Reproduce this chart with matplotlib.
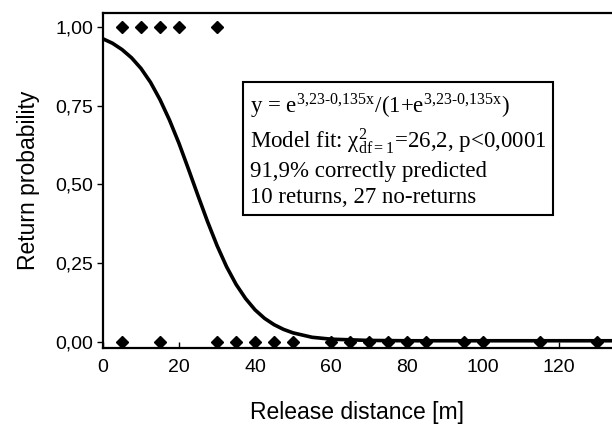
import numpy as np
import matplotlib
matplotlib.use("Agg")
import matplotlib.pyplot as plt

# --- data ---
# observed returns (y = 1) and no-returns (y = 0), release distance in m
return_x = [5, 10, 15, 20, 30]
noreturn_x = [5, 15, 30, 35, 40, 45, 50, 60, 65, 70, 75, 80, 85, 95, 100, 115, 130]

# fitted logistic curve
curve_x = [0, 2.5, 5, 7.5, 10, 12.5, 15, 17.5, 20, 22.5, 25, 27.5, 30, 32.5, 35,
           37.5, 40, 42.5, 45, 47.5, 50, 55, 60, 70, 80, 100, 120, 135]
curve_y = [0.962, 0.948, 0.928, 0.902, 0.868, 0.824, 0.769, 0.704, 0.630, 0.548,
           0.464, 0.382, 0.306, 0.239, 0.183, 0.138, 0.102, 0.075, 0.055, 0.040,
           0.029, 0.015, 0.009, 0.005, 0.004, 0.004, 0.004, 0.004]

y_ticks = [0.0, 0.25, 0.5, 0.75, 1.0]
y_ticklabels = ["0,00", "0,25", "0,50", "0,75", "1,00"]
x_ticks = [0, 20, 40, 60, 80, 100, 120]

box_lines = [
    r"y = e$^{\mathregular{3{,}23\text{-}0{,}135x}}$/(1+e$^{\mathregular{3{,}23\text{-}0{,}135x}}$)",
    r"Model fit: χ$^{\mathregular{2}}_{\mathregular{df=1}}$=26,2, p<0,0001",
    "91,9% correctly predicted",
    "10 returns, 27 no-returns",
]

plt.rcParams['font.family'] = ['Liberation Sans', 'DejaVu Sans']
plt.rcParams['mathtext.fontset'] = 'stix'

fig = plt.figure(figsize=(6.12, 4.25), dpi=100)
ax = fig.add_axes([103 / 612, 1 - 348 / 425, 1 - 103 / 612 + 0.01, 335 / 425])

ax.plot(curve_x, curve_y, color='black', lw=2.6, zorder=2)
ax.plot(return_x, [1] * len(return_x), 'D', color='black', ms=6.5, zorder=3)
ax.plot(noreturn_x, [0] * len(noreturn_x), 'D', color='black', ms=6.5, zorder=3)

ax.set_xlim(0, 135.5)
ax.set_ylim(-0.019, 1.044)
ax.set_xticks(x_ticks)
ax.set_yticks(y_ticks)
ax.set_yticklabels(y_ticklabels)
ax.tick_params(axis='x', direction='in', length=4, width=1, labelsize=14, pad=8)
ax.tick_params(axis='y', direction='out', length=4, width=1, labelsize=14, pad=3)

for s in ['left', 'bottom', 'top']:
    ax.spines[s].set_linewidth(1.6)
ax.spines['right'].set_visible(False)

ax.set_xlabel("Release distance [m]", fontsize=16.5)
ax.set_ylabel("Return probability", fontsize=16.5, labelpad=11)
ax.xaxis.set_label_coords((357 - 103) / 515, -0.158)

ax.text(0.285, 0.765, "\n".join(box_lines), transform=ax.transAxes,
        family='Liberation Serif', fontsize=16.5, va='top', ha='left',
        linespacing=1.3,
        bbox=dict(boxstyle='square,pad=0.3', facecolor='white',
                  edgecolor='black', linewidth=1.5))

fig.savefig("out.png", dpi=100)
